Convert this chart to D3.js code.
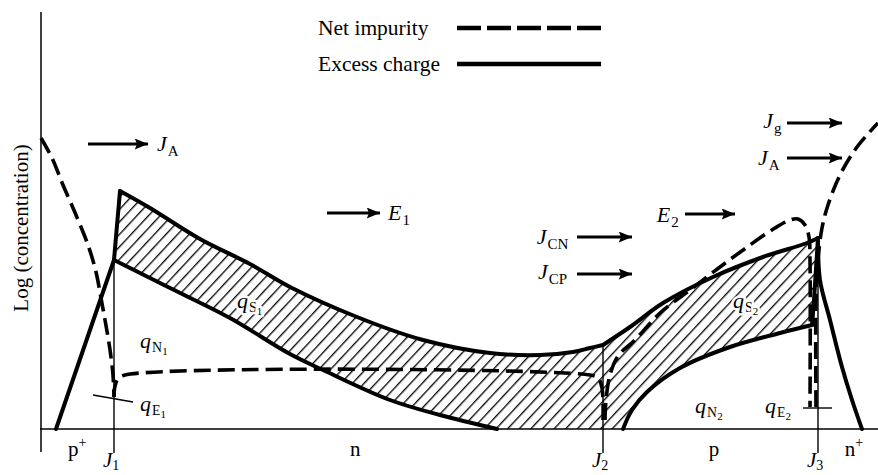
<!DOCTYPE html>
<html><head><meta charset="utf-8">
<script src="https://cdn.jsdelivr.net/npm/d3@7"></script>
<style>
body{margin:0;background:#fff}
svg{display:block}
text{font-family:"Liberation Serif","Times New Roman",serif;fill:#000}
</style>
</head><body>
<svg id="c" width="878" height="475"></svg>
<script>
// ---- data (x: position along device, y: log concentration, arbitrary units) ----
const junctions = [{name:"J", sub:"1", x:9.25, top:42.25}, {name:"J", sub:"2", x:70.375, top:21}, {name:"J", sub:"3", x:97.25, top:47.75}];
const regionLabels = [{t:"p", sup:"+", x:3.5}, {t:"n", x:39.4}, {t:"p", x:84.25}, {t:"n", sup:"+", x:100.6}];
const legendItems = ["Net impurity", "Excess charge"];

// net impurity (dashed)
const impurityPplus = [[0.125,72.75],[1.5,67.75],[2.875,61],[4.5,53.5],[6,46],[7,39.25],[7.625,32.75],[8.125,27.25],[8.5,23],[8.875,18],[9.125,13.5],[9.25,8]];
const impurityN = [[9.25,8],[9.375,10.75],[9.75,12.5],[10.625,13.5],[68.75,13.5],[69.75,12.75],[70.25,10.25],[70.375,2.25]];
const impurityP = [[70.625,2.25],[70.75,7.25],[71.25,13.5],[72.25,18.25],[74.375,22.25],[77.5,29],[81.25,34.75],[85,40.5],[88.75,46],[91.875,50.25],[93.75,52.25],[94.75,52.5],[95.625,51],[96.125,48],[96.25,42.25],[96.25,5.5]];
const impurityNplus = [[97,5.5],[97,32.25],[97.25,42.25],[97.75,50.25],[98.5,56],[100,63.5],[102.125,70.5],[104.75,76.5]];

// excess charge (solid)
const excessPplus = [[2,0],[9.25,42.25],[10,59.5]];
const excessNupper = [[10,59.5],[13.75,55.25],[20,47.5],[26.25,41.25],[31.25,35.5],[39.625,28],[47.875,22.25],[56.25,19],[62.5,18.5],[66.625,19.25],[68.75,20.25],[70.375,21]];
const excessNlower = [[9.25,42.25],[16.25,35.25],[23.75,27.75],[31.25,18.75],[35.375,14.75],[43.75,7.25],[50,3.5],[57.125,0]];
const excessPupper = [[70.375,21],[73.75,25.5],[77.875,31.5],[84.125,38],[90.375,43],[95.875,46.5],[97.25,47.75]];
const excessPlower = [[72.875,0],[74,4.75],[75.875,9.25],[80,15.25],[86.25,20.5],[92.5,24],[96.5,26]];
const excessPedge = [[96.5,26],[96.75,32.25],[97.25,47.75]];
const excessNplus = [[97.25,47.75],[97.5,37.25],[98.75,27.25],[100.25,15.5],[101.5,7.25],[102.75,0]];

// ticks for q_E
const qE1tick = [[6.625,8.5],[11.625,6.75]];
const qE2tick = [[95.375,5.25],[99,5.25]];

// flux / field arrows
const arrows = [
  {x0:6, x1:13.5, y:71.25, main:"J", sub:"A", lx:14.625, ly:69.5},
  {x0:35.875, x1:42.5, y:54, main:"E", sub:"1", lx:43.5, ly:52.25},
  {x0:67.125, x1:74, y:48, main:"J", sub:"CN", lx:62.1, ly:46.25},
  {x0:67.125, x1:74, y:38.75, main:"J", sub:"CP", lx:62.25, ly:37.5},
  {x0:80.625, x1:86.875, y:53.75, main:"E", sub:"2", lx:77.1, ly:51.75},
  {x0:93.375, x1:100.25, y:76.5, main:"J", sub:"g", lx:90.4, ly:75.25},
  {x0:93.375, x1:100.25, y:67.75, main:"J", sub:"A", lx:89.75, ly:66}
];
// charge labels
const qLabels = [
  {s:"S", n:"1", x:24.625, y:30.25},
  {s:"N", n:"1", x:12.5, y:20.25},
  {s:"E", n:"1", x:12.5, y:4.5},
  {s:"S", n:"2", x:86.625, y:30.25},
  {s:"N", n:"2", x:81.875, y:4},
  {s:"E", n:"2", x:90.625, y:4}
];

// ---- drawing ----
const svg = d3.select("#c");
const x = d3.scaleLinear().domain([0,100]).range([40,840]);
const y = d3.scaleLinear().domain([0,100]).range([429,29]);

const defs = svg.append("defs");
const pat = defs.append("pattern").attr("id","hatch").attr("patternUnits","userSpaceOnUse")
  .attr("width",8.5).attr("height",8.5).attr("patternTransform","rotate(43)");
pat.append("line").attr("x1",0.7).attr("y1",0).attr("x2",0.7).attr("y2",8.5).attr("stroke","#000").attr("stroke-width",1.3);
const ah = defs.append("marker").attr("id","ah").attr("viewBox","0 0 12 10").attr("refX",12).attr("refY",5)
  .attr("markerUnits","userSpaceOnUse").attr("markerWidth",14).attr("markerHeight",11).attr("orient","auto");
ah.append("path").attr("d","M0,0L12,5L0,10L2,5Z").attr("fill","#000");

const smooth = d3.line().x(d=>x(d[0])).y(d=>y(d[1])).curve(d3.curveCatmullRom.alpha(0.5));
const straight = d3.line().x(d=>x(d[0])).y(d=>y(d[1]));

// hatched area
const segs = [
  [excessNupper, smooth], [excessPupper, smooth], [excessPedge.slice().reverse(), straight],
  [excessPlower.slice().reverse(), smooth], [excessNlower.slice().reverse(), smooth], [[excessNlower[0], excessPplus[2]], straight]
];
let dpath = "";
segs.forEach(([pts,gen],i)=>{ let s = gen(pts); if(i>0) s = "L" + s.slice(1); dpath += s; });
svg.append("path").attr("d", dpath + "Z").attr("fill","url(#hatch)").attr("stroke","none");

// axes
svg.append("line").attr("x1",x(0)+1).attr("x2",x(0)+1).attr("y1",y(104.25)).attr("y2",y(-5.75)).attr("stroke","#000").attr("stroke-width",1.5);
svg.append("line").attr("x1",x(0)).attr("x2",x(104.75)).attr("y1",y(0)).attr("y2",y(0)).attr("stroke","#000").attr("stroke-width",1.5);

// junction lines
svg.selectAll(".jl").data(junctions).join("line").attr("class","jl")
  .attr("x1",d=>x(d.x)).attr("x2",d=>x(d.x)).attr("y1",d=>y(d.top)).attr("y2",y(-6))
  .attr("stroke","#000").attr("stroke-width",1.4);

// q_E ticks
[qE1tick,qE2tick].forEach(t=>svg.append("path").attr("d",straight(t)).attr("stroke","#000").attr("stroke-width",1.4).attr("fill","none"));

// solid curves
const solidW = 4;
[[excessPplus,straight],[excessNupper,smooth],[excessNlower,smooth],[excessPupper,smooth],[excessPlower,smooth],[excessPedge,straight],[excessNplus,smooth]]
 .forEach(([pts,gen])=>svg.append("path").attr("d",gen(pts)).attr("fill","none").attr("stroke","#000")
   .attr("stroke-width",solidW).attr("stroke-linejoin","round").attr("stroke-linecap","round"));

// dashed curves
[impurityPplus, impurityN, impurityP, impurityNplus].forEach(pts=>
  svg.append("path").attr("d",smooth(pts)).attr("fill","none").attr("stroke","#000")
   .attr("stroke-width",3.6).attr("stroke-dasharray","17,7").attr("stroke-linecap","butt"));

// legend
const lg = svg.append("g");
legendItems.forEach((t,i)=>{
  const yy = i===0 ? 35 : 71;
  lg.append("text").attr("x",318).attr("y",yy).attr("font-size",21.5).text(t);
  lg.append("line").attr("x1",457).attr("x2",601).attr("y1",yy-7).attr("y2",yy-7)
    .attr("stroke","#000").attr("stroke-width",4.5).attr("stroke-dasharray", i===0 ? "24,6" : null);
});

// y-axis title
svg.append("text").attr("transform","translate(28,228) rotate(-90)").attr("text-anchor","middle")
  .attr("font-size",21).text("Log (concentration)");

// arrows
arrows.forEach(a=>{
  svg.append("line").attr("x1",x(a.x0)).attr("x2",x(a.x1)).attr("y1",y(a.y)).attr("y2",y(a.y))
    .attr("stroke","#000").attr("stroke-width",3).attr("marker-end","url(#ah)");
  const t = svg.append("text").attr("x",x(a.lx)).attr("y",y(a.ly)).attr("font-size",22);
  t.append("tspan").attr("font-style","italic").text(a.main);
  t.append("tspan").attr("font-size",15).attr("dx",1).attr("dy",5).text(a.sub);
});

// q labels
qLabels.forEach(q=>{
  const t = svg.append("text").attr("x",x(q.x)).attr("y",y(q.y)).attr("font-size",22)
    .attr("stroke","#fff").attr("stroke-width",5).attr("paint-order","stroke").attr("stroke-linejoin","round");
  t.append("tspan").attr("font-style","italic").text("q");
  t.append("tspan").attr("font-size",14).attr("dx",1).attr("dy",4).text(q.s);
  t.append("tspan").attr("font-size",11).attr("dy",3).text(q.n);
});

// region labels
regionLabels.forEach(r=>{
  const t = svg.append("text").attr("x",x(r.x)).attr("y",y(-6.75)).attr("font-size",21).attr("text-anchor", r.sup ? "start" : "middle");
  t.append("tspan").text(r.t);
  if(r.sup) t.append("tspan").attr("font-size",14).attr("dy",-9).text(r.sup);
});

// junction names
junctions.forEach(j=>{
  const t = svg.append("text").attr("x",x(j.x)-11).attr("y",y(-9.5)).attr("font-size",21);
  t.append("tspan").attr("font-style","italic").text(j.name);
  t.append("tspan").attr("font-size",14).attr("dy",3).text(j.sub);
});
</script>
</body></html>
